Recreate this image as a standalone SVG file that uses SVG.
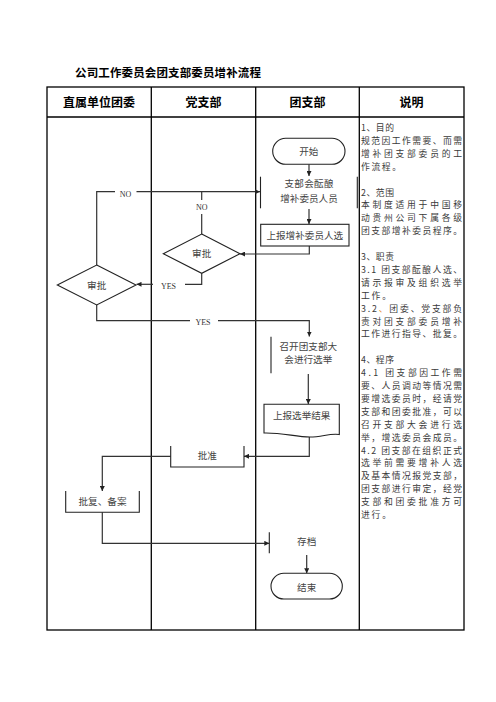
<svg xmlns="http://www.w3.org/2000/svg" width="496" height="702" viewBox="0 0 496 702">
<style>
.tbl{fill:none;stroke:#000;stroke-width:1.3}
.hd{font-family:"Noto Sans CJK SC","Liberation Sans",sans-serif;font-size:12px;font-weight:bold;fill:#000;text-anchor:middle}
.title{font-family:"Noto Sans CJK SC","Liberation Sans",sans-serif;font-size:11.5px;font-weight:bold;fill:#000}
.shape{fill:#fff;stroke:#222;stroke-width:1.1}
.open{fill:none;stroke:#222;stroke-width:1.1}
.nt{font-family:"Noto Sans CJK SC","Liberation Sans",sans-serif;font-size:9.6px;fill:#444;text-anchor:middle;dominant-baseline:central}
.ds{font-family:"Noto Sans CJK SC","Liberation Sans",sans-serif;font-size:8.8px;fill:#3a3a3a}
.lbl{font-family:"Liberation Serif",serif;font-size:8px;fill:#333;text-anchor:middle;dominant-baseline:central}
.cn{fill:none;stroke:#333;stroke-width:1.2}
.ca{fill:none;stroke:#333;stroke-width:1.2;marker-end:url(#ah)}
</style>
<defs>
<marker id="ah" viewBox="0 0 10 10" refX="10" refY="5" markerWidth="5" markerHeight="5" markerUnits="userSpaceOnUse" orient="auto">
<path d="M0,0 L10,5 L0,10 Z" fill="#222"/>
</marker>
</defs>
<rect width="496" height="702" fill="#fff"/>
<text class="title" x="75" y="77" textLength="186" lengthAdjust="spacing">公司工作委员会团支部委员增补流程</text>
<g id="table">
<rect class="tbl" x="47" y="87" width="417" height="543"/>
<line class="tbl" x1="47" y1="117" x2="464" y2="117"/>
<line class="tbl" x1="151.3" y1="87" x2="151.3" y2="630"/>
<line class="tbl" x1="255.7" y1="87" x2="255.7" y2="630"/>
<line class="tbl" x1="359.3" y1="87" x2="359.3" y2="630"/>
<text class="hd" x="99" y="106.5">直属单位团委</text>
<text class="hd" x="203.5" y="106.5">党支部</text>
<text class="hd" x="307.5" y="106.5">团支部</text>
<text class="hd" x="411.5" y="106.5">说明</text>
</g>
<g id="connectors">
<path class="ca" d="M309,164.3 V176"/>
<path class="ca" d="M309,209 V224"/>
<path class="ca" d="M309.3,246 V254 H240"/>
<path class="cn" d="M201.7,234 V214"/>
<path class="cn" d="M201.7,200 V191.7"/>
<text class="lbl" x="201.7" y="207">NO</text>
<path class="cn" d="M96.7,265 V191.7 H115"/>
<path class="ca" d="M136.5,191.7 H260"/>
<text class="lbl" x="125.5" y="194.5">NO</text>
<path class="cn" d="M201.7,273.3 V284.3 H185"/>
<path class="ca" d="M153,284.3 H136.5"/>
<text class="lbl" x="168.5" y="286.5">YES</text>
<path class="cn" d="M96.7,305 V320.7 H190"/>
<path class="ca" d="M218,320.7 H309.3 V336.5"/>
<text class="lbl" x="203" y="322.5">YES</text>
<path class="ca" d="M308.3,374 V404"/>
<path class="ca" d="M309.3,436.5 V456.3 H244"/>
<path class="ca" d="M170.7,456.3 H102.3 V491"/>
<path class="ca" d="M102.3,512.3 V543.3 H269.3"/>
<path class="ca" d="M306.7,555 V573.3"/>
</g>
<g id="start">
<rect class="shape" x="272.7" y="138.3" width="72.3" height="26" rx="13"/>
<text class="nt" x="308.8" y="151.3">开始</text>
</g>
<g id="brew">
<line class="open" x1="260.5" y1="176.7" x2="260.5" y2="208.3"/>
<line class="open" x1="357.3" y1="176.7" x2="357.3" y2="208.3"/>
<text class="nt" x="309" y="183" textLength="49" lengthAdjust="spacing">支部会酝酿</text>
<text class="nt" x="309" y="197.5">增补委员人员</text>
</g>
<g id="report1">
<rect class="shape" x="260.7" y="224.3" width="88.3" height="21.7"/>
<text class="nt" x="304.8" y="235">上报增补委员人选</text>
</g>
<g id="approve-party">
<polygon class="shape" points="201.7,234 240,253.7 201.7,273.3 163.3,253.7"/>
<text class="nt" x="201.7" y="253">审批</text>
</g>
<g id="approve-league">
<polygon class="shape" points="96.7,265 136,285 96.7,305 57.3,285"/>
<text class="nt" x="96.7" y="284.5">审批</text>
</g>
<g id="meeting">
<line class="open" x1="271" y1="336.7" x2="271" y2="373.3"/>
<text class="nt" x="308.3" y="345.5">召开团支部大</text>
<text class="nt" x="308.3" y="359">会进行选举</text>
</g>
<g id="report2">
<path class="shape" d="M264,404.3 H339.3 V434.5 C330,433 322,437 310,437 C296,437 282,432.5 264,433 Z"/>
<text class="nt" x="301.7" y="414.5">上报选举结果</text>
</g>
<g id="ratify">
<path class="open" d="M170.7,446 V467 H244 V446"/>
<text class="nt" x="207.3" y="454.5">批准</text>
</g>
<g id="reply">
<path class="open" d="M65.7,491 V512.3 H139.3 V491"/>
<text class="nt" x="102.5" y="500.5">批复、备案</text>
</g>
<g id="archive">
<line class="open" x1="269.3" y1="532.3" x2="269.3" y2="553.3"/>
<text class="nt" x="306.7" y="541">存档</text>
</g>
<g id="end">
<rect class="shape" x="271" y="573.3" width="71.3" height="25.7" rx="12.8"/>
<text class="nt" x="306.7" y="586.5">结束</text>
</g>
<g id="description">
<text class="ds" x="361" y="131" textLength="33" lengthAdjust="spacing">1、目的</text>
<text class="ds" x="361" y="143.9" textLength="101" lengthAdjust="spacing">规范因工作需要、而需</text>
<text class="ds" x="361" y="156.8" textLength="101" lengthAdjust="spacing">增补团支部委员的工</text>
<text class="ds" x="361" y="169.7" textLength="40" lengthAdjust="spacing">作流程。</text>
<text class="ds" x="361" y="195.5" textLength="33" lengthAdjust="spacing">2、范围</text>
<text class="ds" x="361" y="208.4" textLength="101" lengthAdjust="spacing">本制度适用于中国移</text>
<text class="ds" x="361" y="221.3" textLength="101" lengthAdjust="spacing">动贵州公司下属各级</text>
<text class="ds" x="361" y="234.2" textLength="101" lengthAdjust="spacing">团支部增补委员程序。</text>
<text class="ds" x="361" y="260" textLength="33" lengthAdjust="spacing">3、职责</text>
<text class="ds" x="361" y="272.9" textLength="101" lengthAdjust="spacing">3.1 团支部酝酿人选、</text>
<text class="ds" x="361" y="285.8" textLength="101" lengthAdjust="spacing">请示报审及组织选举</text>
<text class="ds" x="361" y="298.7" textLength="30" lengthAdjust="spacing">工作。</text>
<text class="ds" x="361" y="311.6" textLength="101" lengthAdjust="spacing">3.2<tspan fill="#e8902a">、</tspan>团委、党支部负</text>
<text class="ds" x="361" y="324.5" textLength="101" lengthAdjust="spacing">责对团支部委员增补</text>
<text class="ds" x="361" y="337.4" textLength="101" lengthAdjust="spacing">工作进行指导、批复。</text>
<text class="ds" x="361" y="363.2" textLength="33" lengthAdjust="spacing">4、程序</text>
<text class="ds" x="361" y="376.1" textLength="101" lengthAdjust="spacing">4.1 团支部因工作需</text>
<text class="ds" x="361" y="389" textLength="101" lengthAdjust="spacing">要、人员调动等情况需</text>
<text class="ds" x="361" y="401.9" textLength="101" lengthAdjust="spacing">要增选委员时，经请党</text>
<text class="ds" x="361" y="414.8" textLength="101" lengthAdjust="spacing">支部和团委批准，可以</text>
<text class="ds" x="361" y="427.7" textLength="101" lengthAdjust="spacing">召开支部大会进行选</text>
<text class="ds" x="361" y="440.6" textLength="101" lengthAdjust="spacing">举，增选委员会成员。</text>
<text class="ds" x="361" y="453.5" textLength="101" lengthAdjust="spacing">4.2 团支部在组织正式</text>
<text class="ds" x="361" y="466.4" textLength="101" lengthAdjust="spacing">选举前需要增补人选</text>
<text class="ds" x="361" y="479.3" textLength="101" lengthAdjust="spacing">及基本情况报党支部，</text>
<text class="ds" x="361" y="492.2" textLength="101" lengthAdjust="spacing">团支部进行审定，经党</text>
<text class="ds" x="361" y="505.1" textLength="101" lengthAdjust="spacing">支部和团委批准方可</text>
<text class="ds" x="361" y="518" textLength="30" lengthAdjust="spacing">进行。</text>
</g>
</svg>
